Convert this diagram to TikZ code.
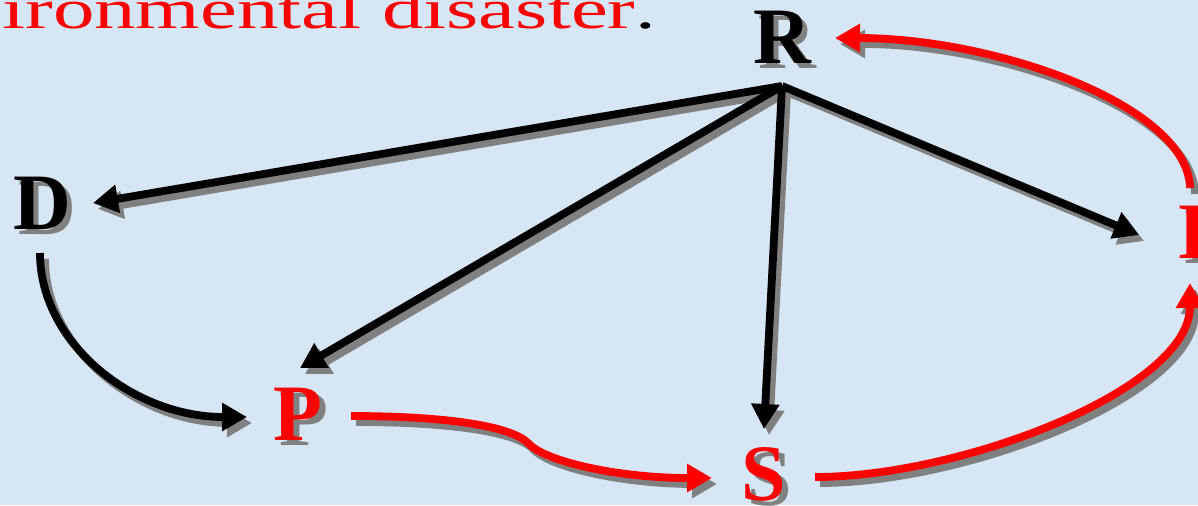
\documentclass[tikz,border=0pt]{standalone}
\usepackage{graphicx}
\usepackage{fontspec}
\setmainfont{Liberation Serif}
\usetikzlibrary{arrows.meta}
\definecolor{bg}{RGB}{214,230,245}
\definecolor{shad}{RGB}{128,128,128}
\newcommand\shtext[2]{\rlap{\smash{\hspace{2.8pt}\raisebox{-2.8pt}{\color{shad}#2}}}{\color{#1}#2}}
\newcommand\sdraw[2]{\draw[conn, #1, draw=shad, transform canvas={shift={(2.5pt,-3pt)}}] #2; \draw[conn, #1] #2;}
\begin{document}
\begin{tikzpicture}[x=0.5pt,y=-0.5pt,
  letter/.style={inner sep=0pt, font=\fontsize{40}{40}\selectfont\bfseries},
  conn/.style={line width=3.9pt, -{Triangle[length=12.5pt,width=13.5pt]}},
  blackconn/.style={draw=black},
  redconn/.style={draw=red}]
\useasboundingbox (0,0) rectangle (1198,505);
\clip (0,0) rectangle (1198,505);
\fill[bg] (0,0) rectangle (1198,505);

\node[anchor=base west, inner sep=0pt] (T) at (2,28)
  {\fontsize{28}{28}\selectfont\scalebox{1.48}[1]{\color{red}ironmental disaster\color{black}.}};

\node[letter] (R) at (782,37) {\shtext{black}{R}};
\node[letter] (D) at (42,203) {\shtext{black}{D}};
\node[letter] (P) at (298,414) {\shtext{red}{P}};
\node[letter] (S) at (764,474) {\shtext{red}{S}};
\node[letter] (I) at (1193,232) {\shtext{red}{I}};

\coordinate (rb) at (782,86);
\coordinate (kink) at (528,443);

\sdraw{blackconn}{(rb) -- ([shift={(51,0)}]D.center)}
\sdraw{blackconn}{(rb) -- ([shift={(2,-46)}]P.center)}
\sdraw{blackconn}{(rb) -- ([shift={(0,-45)}]S.center)}
\sdraw{blackconn}{(rb) -- ([shift={(-54,3)}]I.center)}
\sdraw{blackconn}{([shift={(-2,50)}]D.center) .. controls (40,343) and (133,417) .. ([shift={(-51,3)}]P.center)}

\sdraw{redconn}{([shift={(53,2)}]P.center) .. controls (440,416) and (510,425) .. (kink)
  .. controls (545,462) and (620,478) .. ([shift={(-52,4)}]S.center)}
\sdraw{redconn}{([shift={(51,3)}]S.center) .. controls (960,477) and (1190,390) .. ([shift={(-3,51)}]I.center)}
\sdraw{redconn}{([shift={(-3,-44)}]I.center) .. controls (1188,105) and (995,38) .. ([shift={(53,1)}]R.center)}
\end{tikzpicture}
\end{document}
